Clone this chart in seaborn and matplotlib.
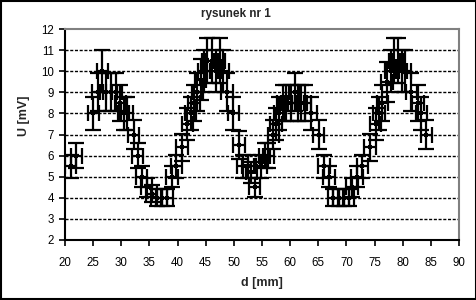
import matplotlib
matplotlib.use("Agg")
import matplotlib.pyplot as plt
import seaborn as sns
import numpy as np
import pandas as pd

d_mm = [21, 22, 25, 25.8, 26.6, 27.3, 28.2, 29.1, 29.8, 30.4,
        31, 32.2, 32.9, 33.6, 34.5, 35.4, 36.3, 37.2, 38.1, 39,
        39.8, 40.8, 41.7, 42.3, 42.9, 43.5, 44.1, 44.7, 45.3, 46.1,
        46.9, 47.5, 48.1, 48.8, 49.9, 50.9, 51.6, 52.5, 53.1, 53.7,
        54.9, 55.5, 56.1, 57, 57.5, 58.1, 58.7, 59.3, 60.1, 60.8,
        61.4, 62, 62.7, 63.7, 65.1, 66, 66.9, 67.7, 68.6, 69.5,
        70.4, 71, 71.9, 72.8, 74.2, 75.2, 75.8, 76.4, 77.2, 77.9,
        78.5, 79.2, 79.8, 80.4, 81.5, 82.7, 83.3, 84.2]
U_mV = [5.5, 6, 8, 9, 10, 9, 9, 9, 8.5, 8,
        8, 7, 6, 5, 4.5, 4.2, 4, 4, 4, 5,
        5.5, 6.4, 7.5, 8, 8.5, 9, 9.6, 10, 10.5, 10.5,
        10, 10.5, 10, 9, 8, 6.5, 5.5, 5.5, 5.2, 4.5,
        5.5, 6, 6, 7, 7.5, 8, 8.5, 8.5, 8.5, 9,
        8.5, 8.5, 8.5, 8, 7, 5.5, 5, 4, 4, 4,
        4, 4.5, 5, 5.5, 6.4, 7.5, 8, 8.5, 9.5, 10,
        10.5, 10.5, 10, 10, 9, 8.5, 8, 7]
x_err_mm = [1.0] * len(d_mm)
y_err_mV = [0.1 * u for u in U_mV]

x_ticks = [20, 25, 30, 35, 40, 45, 50, 55, 60, 65, 70, 75, 80, 85, 90]
y_ticks = [2, 3, 4, 5, 6, 7, 8, 9, 10, 11, 12]

sns.set_theme(style="white")
plt.rcParams['font.family'] = ['Liberation Sans', 'DejaVu Sans']

df = pd.DataFrame({"d": d_mm, "U": U_mV})

W, H = 477, 300
fig = plt.figure(figsize=(W / 100, H / 100), dpi=100)
fig.patch.set_facecolor("white")
ax = fig.add_axes([65/W, 1 - 240/H, (459 - 65)/W, (240 - 29)/H])

ax.errorbar(df["d"], df["U"], xerr=x_err_mm, yerr=y_err_mV, fmt='none',
            ecolor='black', elinewidth=1.6, capsize=5.5, capthick=1.6, zorder=3)
sns.scatterplot(data=df, x="d", y="U", ax=ax, marker='s', s=6, color='black',
                edgecolor='black', linewidth=0, zorder=4, legend=False)

ax.set_xlim(20, 90)
ax.set_ylim(2, 12)
ax.set_xticks(x_ticks)
ax.set_yticks(y_ticks)
ax.set_xticklabels([str(t) for t in x_ticks], fontsize=8.3)
ax.set_yticklabels([str(t) for t in y_ticks], fontsize=8.3)

for yv in y_ticks[1:-1]:
    ax.axhline(yv, color='black', linestyle=(0, (2.2, 1.2)), linewidth=1.0, zorder=1)

for side in ['left', 'bottom']:
    ax.spines[side].set_color('black')
    ax.spines[side].set_linewidth(1.5)
for side in ['top', 'right']:
    ax.spines[side].set_color('#808080')
    ax.spines[side].set_linewidth(1.5)
    ax.spines[side].set_visible(True)

ax.tick_params(axis='both', direction='out', length=4, width=1.2, color='black',
               labelcolor='black', left=True, bottom=True)
ax.tick_params(axis='x', pad=8)
ax.tick_params(axis='y', pad=4)

ax.set_xlabel("")
ax.set_ylabel("")
fig.text(262/W, 1 - 283/H, "d [mm]", fontsize=9, fontweight='bold',
         ha='center', va='center')
fig.text(24/W, 1 - 116/H, "U [mV]", fontsize=9, fontweight='bold',
         ha='center', va='center', rotation=90)
fig.text(236/W, 1 - 14/H, "rysunek nr 1", fontsize=8.5, fontweight='bold',
         ha='center', va='center')

border = plt.Rectangle((0.002, 0.003), 0.996, 0.994, transform=fig.transFigure,
                       fill=False, edgecolor='black', linewidth=1.5)
fig.patches.append(border)

fig.savefig("out.png", dpi=100, facecolor='white')
